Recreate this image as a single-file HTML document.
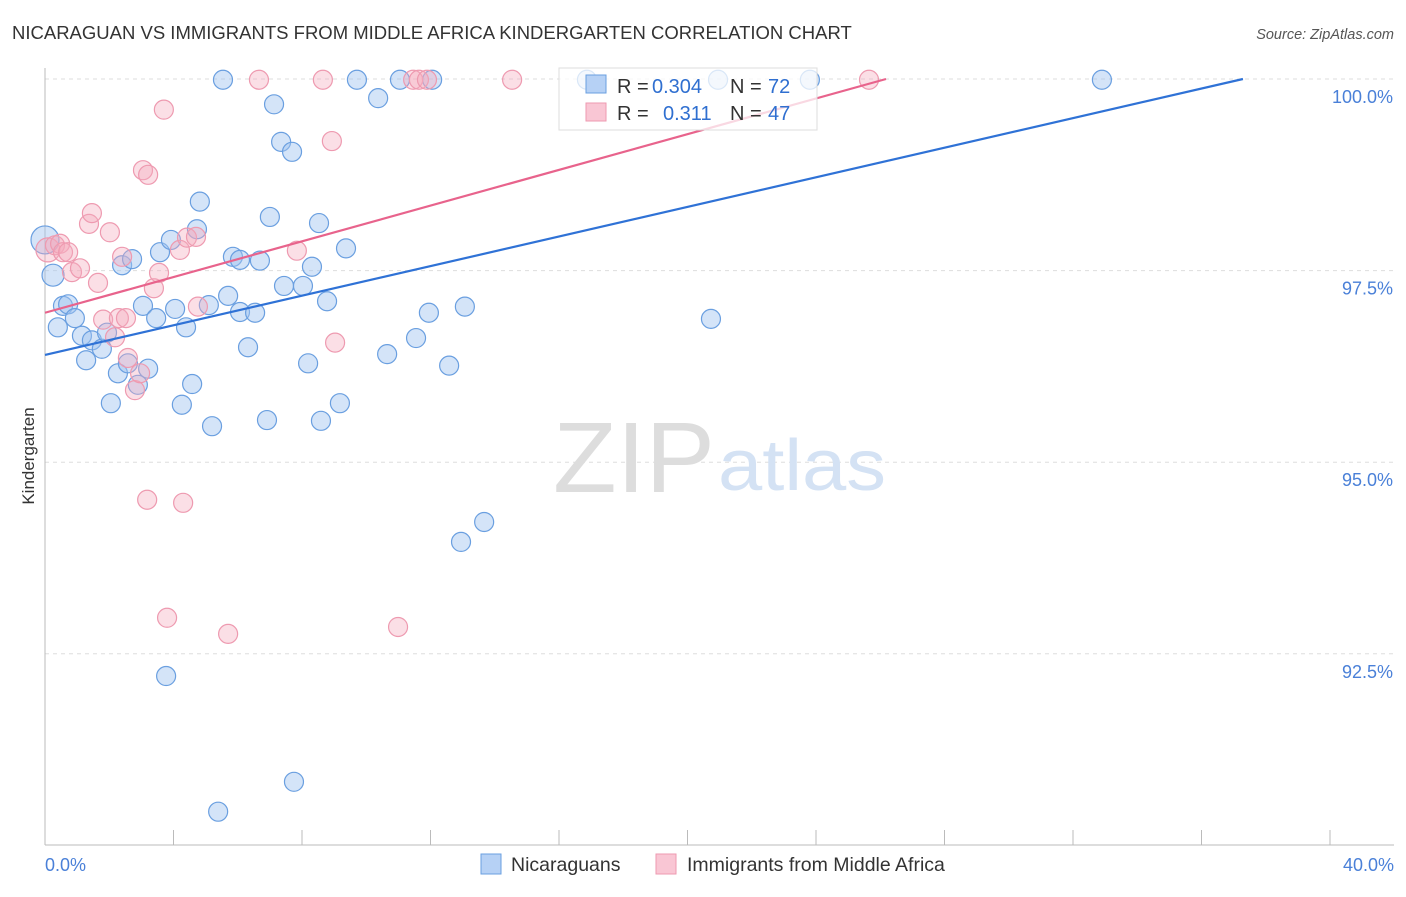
<!DOCTYPE html>
<html><head><meta charset="utf-8"><style>
body{margin:0;background:#fff;font-family:"Liberation Sans",sans-serif}
svg text{font-family:"Liberation Sans",sans-serif}
</style></head><body>
<svg id="chart" width="1406" height="892">
<text x="12" y="39" font-size="18.5" fill="#333">NICARAGUAN VS IMMIGRANTS FROM MIDDLE AFRICA KINDERGARTEN CORRELATION CHART</text>
<text x="1394" y="39" font-size="14.5" fill="#555" font-style="italic" text-anchor="end">Source: ZipAtlas.com</text>
<g id="grid"></g>
<text x="553" y="492" font-size="100" fill="#ddd" font-family="Liberation Serif,serif" textLength="162" lengthAdjust="spacingAndGlyphs">ZIP</text>
<text x="718" y="490" font-size="72" fill="#d4e2f4" textLength="168" lengthAdjust="spacingAndGlyphs">atlas</text>
<g id="marks"></g>
<text transform="translate(34,456) rotate(-90)" font-size="17" fill="#333" text-anchor="middle">Kindergarten</text>
<g>
<rect x="559" y="68" width="258" height="62" fill="rgba(255,255,255,0.75)" stroke="#ddd"/>
<rect x="586" y="75" width="20" height="18" fill="#b6d1f5" stroke="#6a9fe0"/>
<text x="617" y="93" font-size="20" fill="#333">R =</text>
<text x="652" y="93" font-size="20" fill="#2f6fd0">0.304</text>
<text x="730" y="93" font-size="20" fill="#333">N =</text>
<text x="768" y="93" font-size="20" fill="#2f6fd0">72</text>
<rect x="586" y="103" width="20" height="18" fill="#f9c6d4" stroke="#ee9ab0"/>
<text x="617" y="120" font-size="20" fill="#333">R =</text>
<text x="663" y="120" font-size="20" fill="#2f6fd0">0.311</text>
<text x="730" y="120" font-size="20" fill="#333">N =</text>
<text x="768" y="120" font-size="20" fill="#2f6fd0">47</text>
</g>
<g>
<rect x="481" y="854" width="20" height="20" fill="#b6d1f5" stroke="#6a9fe0"/>
<text x="511" y="871" font-size="19.5" fill="#333">Nicaraguans</text>
<rect x="656" y="854" width="20" height="20" fill="#f9c6d4" stroke="#ee9ab0"/>
<text x="687" y="871" font-size="19.5" fill="#333">Immigrants from Middle Africa</text>
</g>
</svg>
<script>
const blueX=[0.0,0.25,0.40,0.56,0.72,0.93,1.15,1.28,1.46,1.77,1.93,2.05,2.27,2.40,2.58,2.71,2.89,3.05,3.21,3.46,3.58,3.77,3.92,4.05,4.26,4.39,4.58,4.73,4.82,5.10,5.20,5.39,5.54,5.70,5.85,6.07,6.07,6.32,6.54,6.69,6.91,7.00,7.13,7.35,7.44,7.69,7.75,8.03,8.19,8.31,8.53,8.59,8.78,9.18,9.37,9.71,10.37,10.65,11.05,11.55,11.95,12.05,12.58,12.95,13.07,13.67,16.87,20.73,20.95,23.81,32.90];
const blueY=[97.90,97.44,96.76,97.04,97.06,96.88,96.65,96.33,96.59,96.48,96.69,95.77,96.16,97.57,96.29,97.65,96.01,97.04,96.22,96.88,97.74,92.21,97.90,97.00,95.75,96.76,96.02,98.04,98.40,97.05,95.47,90.44,99.99,97.17,97.68,97.64,96.96,96.50,96.95,97.63,95.55,98.20,99.67,99.18,97.30,99.05,90.83,97.30,96.29,97.55,98.12,95.54,97.10,95.77,97.79,99.99,99.75,96.41,99.99,96.62,96.95,99.99,96.26,93.96,97.03,94.22,99.99,96.87,99.99,99.99,99.99];
const pinkX=[0.09,0.31,0.47,0.56,0.72,0.84,1.09,1.37,1.46,1.65,1.81,2.02,2.18,2.30,2.40,2.52,2.58,2.80,2.96,3.05,3.21,3.18,3.39,3.55,3.70,3.80,4.20,4.30,4.42,4.70,4.76,5.70,6.66,7.84,8.65,8.93,9.03,10.99,11.46,11.64,11.89,14.54,25.65];
const pinkY=[97.77,97.83,97.85,97.74,97.74,97.48,97.53,98.11,98.25,97.34,96.86,98.00,96.63,96.88,97.68,96.88,96.36,95.94,96.16,98.81,98.75,94.51,97.27,97.47,99.60,92.97,97.77,94.47,97.93,97.94,97.03,92.76,99.99,97.76,99.99,99.19,96.56,92.85,99.99,99.99,99.99,99.99,99.99];
const blueTrend=[0,96.40,37.29,100];
const pinkTrend=[0,96.95,26.18,100];
const yTicks=[100,97.5,95,92.5];
const yTickLabels=["100.0%","97.5%","95.0%","92.5%"];
const xTickLabels=["0.0%","40.0%"];
const NS="http://www.w3.org/2000/svg";
const sx=v=>45+v/40*1285, sy=v=>79+(100-v)/2.5*191.6;
function mk(tag,attrs,parent){const e=document.createElementNS(NS,tag);for(const k in attrs)e.setAttribute(k,attrs[k]);parent.appendChild(e);return e;}
const grid=document.getElementById('grid'), marks=document.getElementById('marks');
yTicks.forEach((t,i)=>{
 const l=mk('line',{x1:45,x2:1394,y1:sy(t),y2:sy(t),stroke:'#ddd','stroke-dasharray':'4,4'},grid);
 
 
 const tx=mk('text',{x:1393,y:sy(t)+24,'font-size':18,fill:'#4a80d8','text-anchor':'end'},grid);
 tx.textContent=yTickLabels[i];
 
 
});
const ax=mk('line',{x1:45,x2:45,y1:68,y2:845,stroke:'#bbb'},grid);


const bx=mk('line',{x1:45,x2:1394,y1:845,y2:845,stroke:'#bbb'},grid);


for(let i=1;i<=10;i++){const t=mk('line',{x1:sx(i*4),x2:sx(i*4),y1:830,y2:845,stroke:'#bbb'},grid);
 
 }
[[0,'start',45],[40,'end',1394]].forEach((d,i)=>{const t=mk('text',{x:d[2],y:871,'font-size':18,fill:'#4a80d8','text-anchor':d[1]},grid);t.textContent=xTickLabels[i];
 
 });
function pts(X,Y,fill,stroke,name){X.forEach((x,i)=>{let r=9.5;if(name==='nicaraguan-point'&&i===0)r=14;if(name==='nicaraguan-point'&&i===1)r=11;if(name==='middle-africa-point'&&i===0)r=12;
 const c=mk('circle',{cx:sx(x),cy:sy(Y[i]),r:r,fill:fill,stroke:stroke,'stroke-width':1.2},marks);
 
 });}
pts(blueX,blueY,'rgba(160,195,240,0.45)','#6a9fe0','nicaraguan-point');
pts(pinkX,pinkY,'rgba(245,170,190,0.38)','#ee9ab0','middle-africa-point');
const bl=mk('line',{x1:sx(blueTrend[0]),y1:sy(blueTrend[1]),x2:sx(blueTrend[2]),y2:sy(blueTrend[3]),stroke:'#2f72d6','stroke-width':2.2},marks);


const pl=mk('line',{x1:sx(pinkTrend[0]),y1:sy(pinkTrend[1]),x2:sx(pinkTrend[2]),y2:sy(pinkTrend[3]),stroke:'#e8638c','stroke-width':2.2},marks);


</script>
</body></html>
